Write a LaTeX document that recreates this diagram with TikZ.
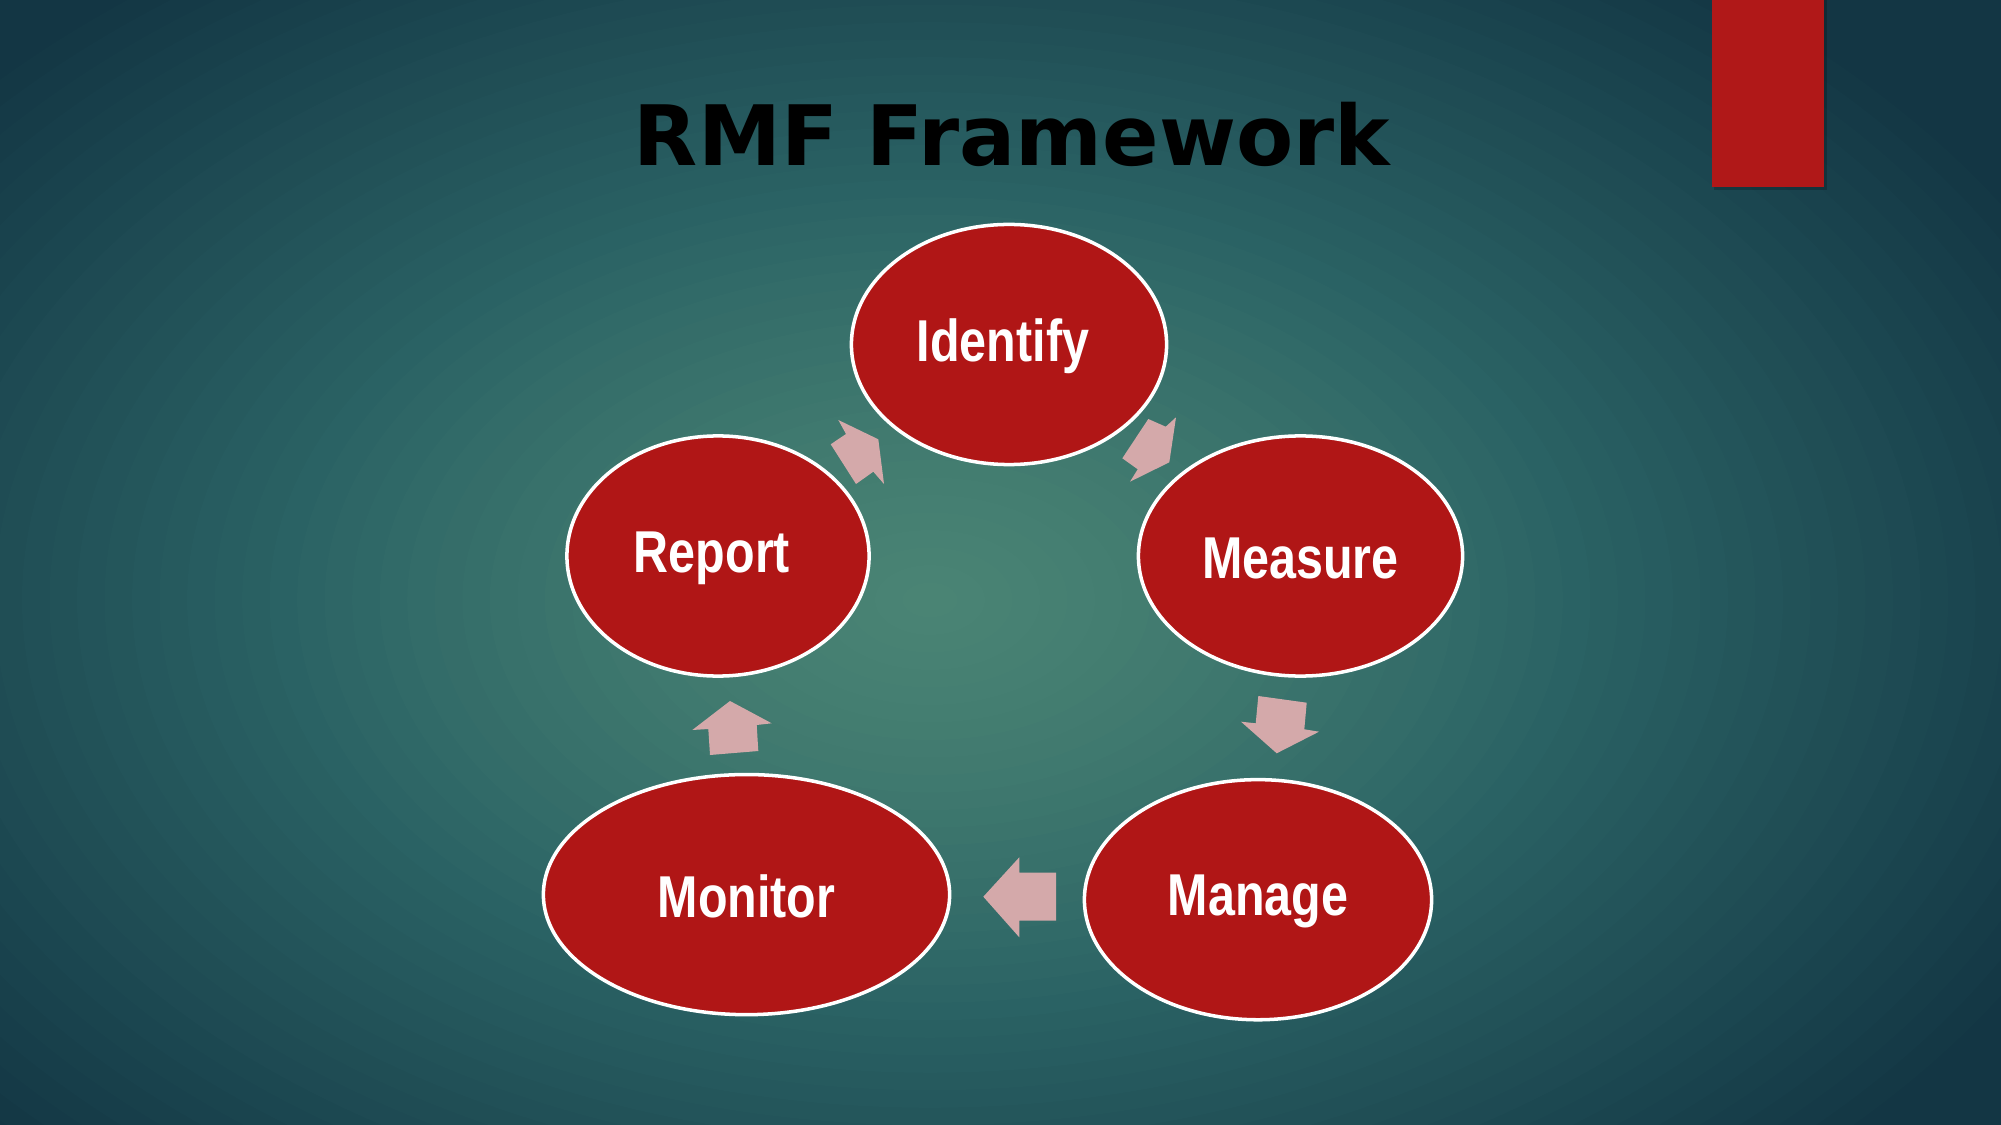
\documentclass[tikz,border=0pt]{standalone}
\usepackage{fontspec}
\setmainfont{Liberation Sans}
\newfontfamily\titlefont{DejaVu Sans}
\usetikzlibrary{shapes.geometric}
\definecolor{bgin}{HTML}{4A8474}
\definecolor{bgmid}{HTML}{2A6264}
\definecolor{bgdark}{HTML}{133644}
\definecolor{ovalred}{HTML}{B01616}
\definecolor{pinkarrow}{HTML}{D4A9AA}
\definecolor{barred}{HTML}{B01818}
\tikzset{
  oval/.style={ellipse, draw=white, line width=1pt, fill=ovalred, inner sep=0pt,
    minimum height=2.4cm},
  ovaltext/.style={text=white, inner sep=0pt, font=\bfseries\fontsize{16.8}{18}\selectfont},
  cyclearrow/.style={fill=pinkarrow, draw=none},
}
\newcommand{\narrow}[1]{\scalebox{0.82}[1]{#1}}
\begin{document}
\begin{tikzpicture}[x=0.01cm, y=-0.01cm]
\useasboundingbox (0,0) rectangle (2001,1125);
% background glow built from concentric ellipses
\begin{scope}
\clip (0,0) rectangle (2001,1125);
\fill[bgdark] (0,0) rectangle (2001,1125);
\foreach \i in {52,...,25} {
  \pgfmathsetmacro\r{\i/40}
  \pgfmathsetmacro\p{100*min(1,(\r-0.6)/0.55)}
  \pgfmathsetmacro\rx{11*\r}
  \pgfmathsetmacro\ry{7*\r}
  \fill[bgdark!\p!bgmid] (930,600) ellipse [x radius=\rx cm, y radius=\ry cm];
}
\foreach \i in {24,...,1} {
  \pgfmathsetmacro\r{\i/40}
  \pgfmathsetmacro\p{100*((\r/0.6)^1.4)}
  \pgfmathsetmacro\rx{11*\r}
  \pgfmathsetmacro\ry{7*\r}
  \fill[bgmid!\p!bgin] (930,600) ellipse [x radius=\rx cm, y radius=\ry cm];
}
\end{scope}
% red bar top right
\fill[black, opacity=0.2] (1714,0) rectangle (1827,190);
\fill[barred] (1712,0) rectangle (1824,187);
% title
\node[font=\titlefont\bfseries\fontsize{23.7}{28}\selectfont, text=black] (title) at (1012,134) {RMF Framework};
% ovals
\node[oval, minimum width=3.15cm] (identify) at (1009,344.5) {};
\node[oval, minimum width=3.24cm] (measure) at (1300.5,556) {};
\node[oval, minimum width=3.47cm] (manage) at (1258,899.7) {};
\node[oval, minimum width=4.06cm] (monitor) at (746.5,894.6) {};
\node[oval, minimum width=3.02cm] (report) at (718,556) {};
% labels
\node[ovaltext] (identifyl) at ([xshift=-0.06cm, yshift=-0.02cm]identify.center) {\narrow{Identify}};
\node[ovaltext] (measurel) at ([yshift=-0.02cm]measure.center) {\narrow{Measure}};
\node[ovaltext] (managel) at ([yshift=-0.02cm]manage.center) {\narrow{Manage}};
\node[ovaltext] (monitorl) at ([yshift=-0.02cm]monitor.center) {\narrow{Monitor}};
\node[ovaltext] (reportl) at ([xshift=-0.06cm, yshift=-0.02cm]report.center) {\narrow{Report}};
% block arrows
% identify -> measure
\fill[cyclearrow] (1148.3,419) -- (1165.7,426.7) -- (1176,417.3) -- (1169.3,462.3) -- (1130,481.7) -- (1137.7,469.3) -- (1122.3,458.3) -- cycle;
% measure -> manage
\fill[cyclearrow] (1258.3,696) -- (1306.7,702.7) -- (1304.3,729.3) -- (1319,731.7) -- (1276.7,753.3) -- (1241,721.7) -- (1255.7,723.3) -- cycle;
% manage -> monitor
\fill[cyclearrow] (983.3,896.7) -- (1019.3,857.3) -- (1019.3,872.7) -- (1056,872.7) -- (1056,920.7) -- (1019.3,920.7) -- (1019.3,937.3) -- cycle;
% monitor -> report
\fill[cyclearrow] (730,701) -- (771.7,723.3) -- (756.7,725) -- (758.3,751) -- (710,755) -- (708.3,729) -- (692.3,730) -- cycle;
% report -> identify
\fill[cyclearrow] (838.3,420) -- (846,434) -- (830.7,444.3) -- (856,484) -- (873.3,471.7) -- (884,484) -- (878.3,439.3) -- cycle;
\end{tikzpicture}
\end{document}
